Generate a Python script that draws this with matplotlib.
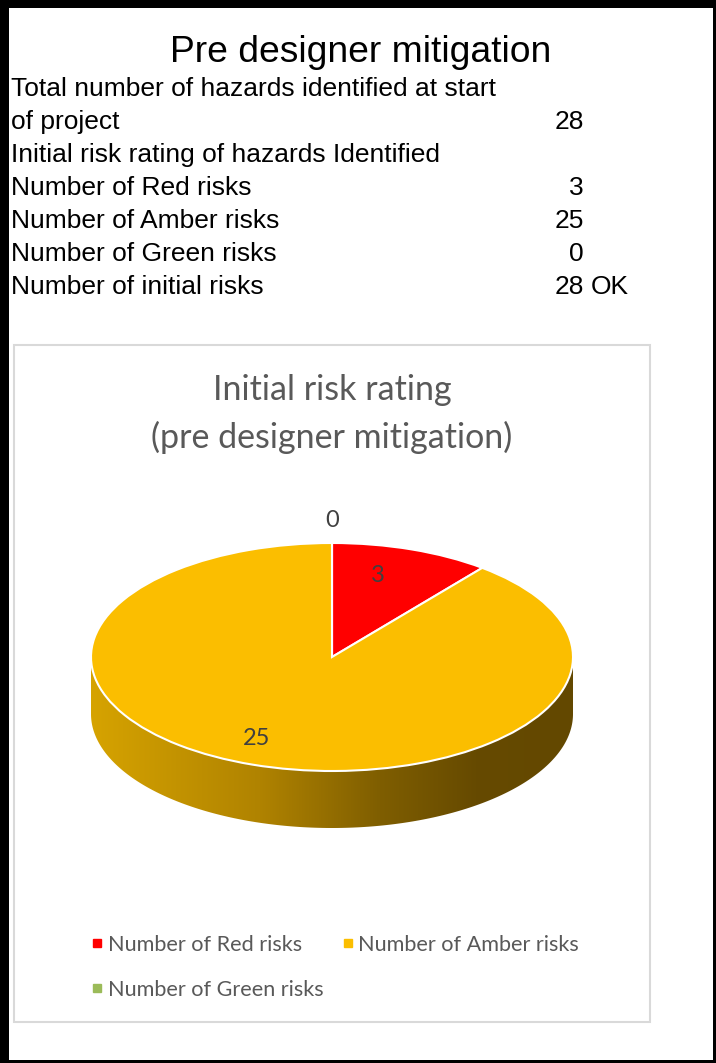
import numpy as np
import matplotlib.pyplot as plt
from matplotlib.patches import Rectangle, Polygon
from matplotlib.lines import Line2D
from matplotlib.colors import LinearSegmentedColormap

# Summary table at the top
row_labels = ['Total number of hazards identified at start', 'of project',
              'Initial risk rating of hazards Identified', 'Number of Red risks',
              'Number of Amber risks', 'Number of Green risks', 'Number of initial risks']
row_values = ['', '28', '', '3', '25', '0', '28']
row_notes = ['', '', '', '', '', '', 'OK']

# Pie chart data
categories = ['Number of Red risks', 'Number of Amber risks', 'Number of Green risks']
counts = [3, 25, 0]
colors = ['#FF0000', '#FBBE00', '#9BBB59']

W, H = 716, 1063
fig = plt.figure(figsize=(W / 100, H / 100), dpi=100, facecolor='black')

# background axes in pixel units
bg = fig.add_axes([0, 0, 1, 1])
bg.set_xlim(0, W)
bg.set_ylim(H, 0)
bg.axis('off')
bg.add_patch(Rectangle((9, 8), 704, 1052, facecolor='white', edgecolor='none'))
bg.add_patch(Rectangle((14, 345), 636, 677, facecolor='white', edgecolor='#D9D9D9', lw=1.5))

sans = 'Liberation Sans'
bg.text(361, 52, 'Pre designer mitigation', fontsize=26.8, family=sans, ha='center', va='center')
y0, dy = 89, 33
for i, (lab, val, note) in enumerate(zip(row_labels, row_values, row_notes)):
    y = y0 + i * dy
    bg.text(11, y, lab, fontsize=19, family=sans, ha='left', va='center')
    if val:
        bg.text(584, y, val, fontsize=19, family=sans, ha='right', va='center')
    if note:
        bg.text(591, y, note, fontsize=19, family=sans, ha='left', va='center')

chart_font = 'Lato'
gray = '#595959'
bg.text(332, 390, 'Initial risk rating', fontsize=24.5, family=chart_font, color=gray,
        ha='center', va='center')
bg.text(332, 437, '(pre designer mitigation)', fontsize=24.5, family=chart_font, color=gray,
        ha='center', va='center')

# pie axes: unit circle squashed into an ellipse, with room below for the side
depth = 0.5
left, right, top, bottom = 91, 573, 543, 828
ax = fig.add_axes([left / W, 1 - bottom / H, (right - left) / W, (bottom - top) / H])
ax.axis('off')

# side of the 3D pie (front half), gradient filled
t = np.linspace(np.pi, 2 * np.pi, 200)
upper = np.column_stack([np.cos(t), np.sin(t)])
lower = np.column_stack([np.cos(t[::-1]), np.sin(t[::-1]) - depth])
side = Polygon(np.vstack([upper, lower]), closed=True, facecolor='none', edgecolor='none')
ax.add_patch(side)
cmap = LinearSegmentedColormap.from_list('side', [
    (0.0, '#D6A300'), (0.35, '#B08300'), (0.6, '#7F5E00'), (0.8, '#664A00'), (1.0, '#634800')])
grad = np.linspace(0, 1, 256).reshape(1, -1)
im = ax.imshow(grad, cmap=cmap, extent=(-1, 1, -1 - depth, 0), aspect='auto', zorder=1)
im.set_clip_path(side)

wedges, _ = ax.pie(counts, colors=colors, startangle=90, counterclock=False,
                   wedgeprops=dict(edgecolor='white', linewidth=1.5, zorder=2))
ax.set_aspect('auto')
ax.set_xlim(-1.0, 1.0)
ax.set_ylim(-1 - depth, 1.0)

# data labels (zero slice gets its label outside the pie)
total = sum(counts)
cum = 0
for v in counts:
    mid = np.deg2rad(90 - (cum + v / 2) / total * 360)
    if v == 0:
        x, y = 1.2 * np.cos(mid), 1.2 * np.sin(mid)
    else:
        x, y = 0.76 * np.cos(mid) - 0.06, 0.76 * np.sin(mid)
    ax.text(x, y, str(v), fontsize=17, family=chart_font,
            color='#404040', ha='center', va='center', zorder=5)
    cum += v

# legend: order so rows read Red, Amber / Green
handles = [Line2D([], [], marker='s', linestyle='', markersize=6, markerfacecolor=c,
                  markeredgecolor=c, label=n) for n, c in zip(categories, colors)]
order = [0, 2, 1]
fig.legend([handles[i] for i in order], [categories[i] for i in order], ncol=2,
           loc='upper left', bbox_to_anchor=(81 / W, 1 - 926 / H), frameon=False,
           prop=dict(family=chart_font, size=15.6), labelcolor=gray, handletextpad=0.15,
           handlelength=0.7, columnspacing=0.75, labelspacing=1.15, borderaxespad=0)

fig.savefig('out.png', dpi=100, facecolor='black')
